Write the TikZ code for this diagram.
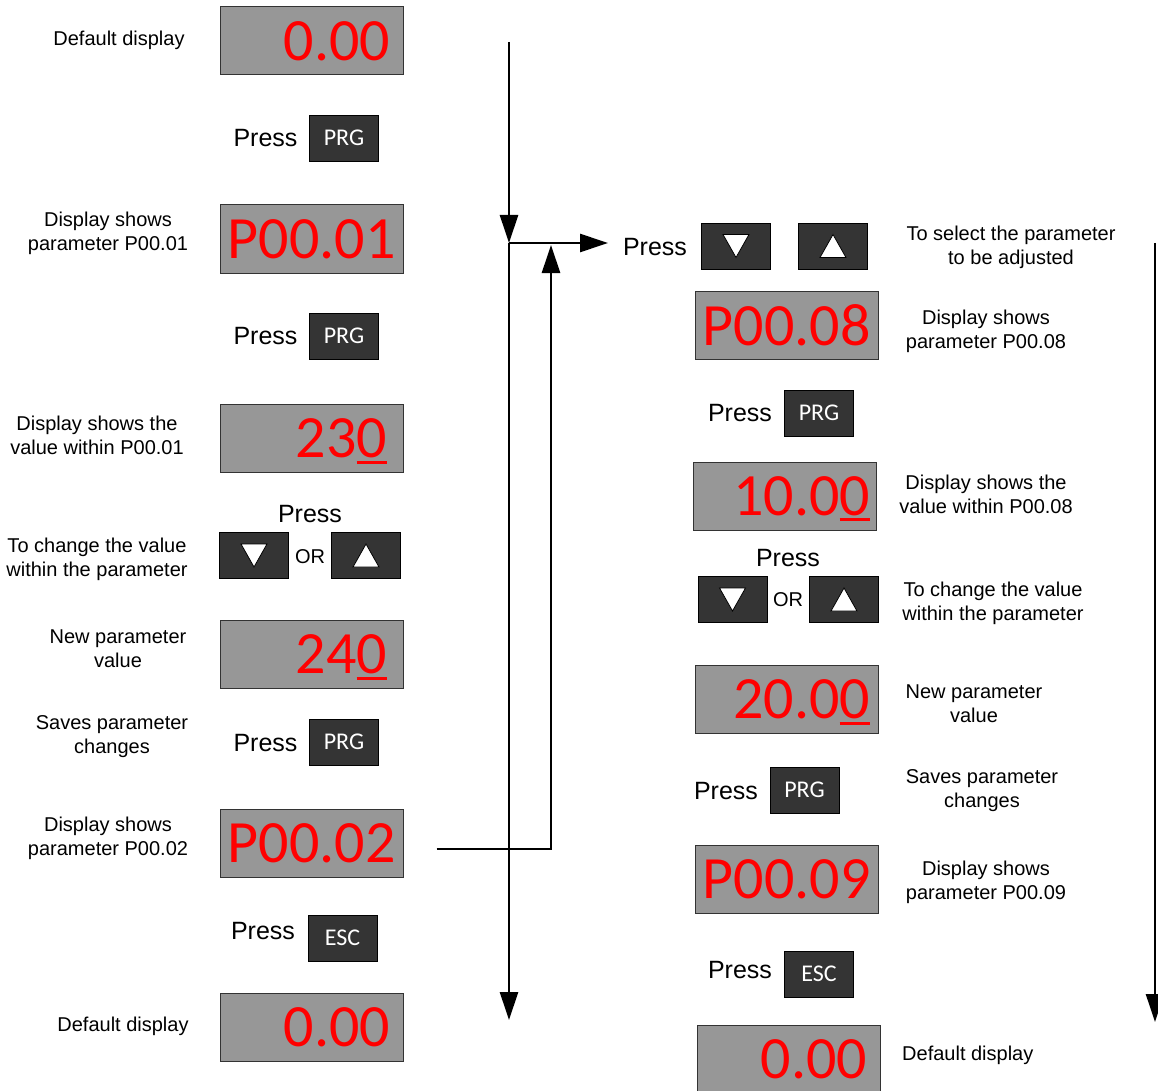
\documentclass[tikz,border=0pt]{standalone}
\usepackage{fontspec}
\setmainfont{Liberation Sans}
\newfontfamily\lcdfont{Carlito}
\usetikzlibrary{arrows.meta,positioning}
\definecolor{lcdGray}{RGB}{151,151,151}
\definecolor{lcdRed}{RGB}{255,0,0}
\definecolor{keyDark}{RGB}{52,52,52}
\newcommand{\uldigit}[1]{\setbox0\hbox{#1}\smash{\rlap{\rule[-6pt]{\wd0}{3pt}}}#1}

\tikzset{
    lcdpad/.style={inner xsep=#1, text width=183pt-2*#1},
    lcd/.style={draw=black!80, line width=1pt, fill=lcdGray, minimum width=183pt, minimum height=68pt,
        lcdpad=13pt, align=right, text=lcdRed, font=\lcdfont\fontsize{60}{60}\selectfont},
    lcdcode/.style={lcd, lcdpad=7pt, align=center},
    keybox/.style={draw=black, line width=0.8pt, fill=keyDark, minimum width=69pt, minimum height=46pt,
        inner sep=0pt, text=white, font=\lcdfont\fontsize{24}{24}\selectfont},
    keydown/.style={keybox, path picture={\draw[fill=white, line width=0.8pt]
        ([xshift=-13pt,yshift=11.5pt]path picture bounding box.center) -- ++(26pt,0) -- ++(-13pt,-23pt) -- cycle;}},
    keyup/.style={keybox, path picture={\draw[fill=white, line width=0.8pt]
        ([xshift=-13pt,yshift=-11.5pt]path picture bounding box.center) -- ++(26pt,0) -- ++(-13pt,23pt) -- cycle;}},
    press/.style={font=\fontsize{25}{25}\selectfont, inner sep=0pt},
    orlabel/.style={font=\fontsize{20}{20}\selectfont, inner sep=0pt},
    note/.style={font=\fontsize{20}{24}\selectfont, align=center, inner sep=0pt},
    flow/.style={line width=2.6pt, -{Triangle[length=28pt,width=18pt]}}
}

\begin{document}
\begin{tikzpicture}[x=1pt,y=-1pt]
    \useasboundingbox (0,0) rectangle (1158,1091);

    % left column
    \node[lcd] (dispL1) at (311.5,41) {0.00};
    \node[note] (noteL1) at (119,40) {Default display};
    \node[press] (pressL1) at (265.5,138) {Press};
    \node[keybox] (prgL1) at (344,138) {PRG};

    \node[lcdcode] (dispL2) at (311.5,239) {P00.01};
    \node[note] (noteL2) at (108,233) {Display shows\\parameter P00.01};
    \node[press] (pressL2) at (265.5,336) {Press};
    \node[keybox] (prgL2) at (344,336) {PRG};

    \node[lcd, lcdpad=16pt] (dispL3) at (311.5,438.5) {23\uldigit{0}};
    \node[note] (noteL3) at (97,435) {Display shows the\\value within P00.01};
    \node[press] (pressL3) at (310,514) {Press};
    \node[keydown] (downL) at (254,555.5) {};
    \node[orlabel] (orL) at (310,557) {OR};
    \node[keyup] (upL) at (366,555.5) {};
    \node[note] (noteL4) at (97,559) {To change the value\\within the parameter};

    \node[lcd, lcdpad=16pt] (dispL4) at (311.5,654.5) {24\uldigit{0}};
    \node[note] (noteL5) at (118,649) {New parameter\\value};
    \node[press] (pressL4) at (265.5,743) {Press};
    \node[keybox] (prgL3) at (344,742) {PRG};
    \node[note] (noteL6) at (112,737) {Saves parameter\\changes};

    \node[lcdcode] (dispL5) at (311.5,843.5) {P00.02};
    \node[note] (noteL7) at (108,838) {Display shows\\parameter P00.02};
    \node[press] (pressL5) at (263,931) {Press};
    \node[keybox] (escL) at (342.5,938) {ESC};

    \node[lcd] (dispL6) at (311.5,1027) {0.00};
    \node[note] (noteL8) at (123,1026) {Default display};

    % right column
    \node[press] (pressR1) at (655,247) {Press};
    \node[keydown] (downR1) at (736,246) {};
    \node[keyup] (upR1) at (833,246) {};
    \node[note] (noteR1) at (1011,247) {To select the parameter\\to be adjusted};

    \node[lcdcode] (dispR1) at (786.5,325) {P00.08};
    \node[note] (noteR2) at (986,331) {Display shows\\parameter P00.08};
    \node[press] (pressR2) at (740,413) {Press};
    \node[keybox] (prgR1) at (819,413) {PRG};

    \node[lcd, lcdpad=6pt] (dispR2) at (784.5,496) {10.0\uldigit{0}};
    \node[note] (noteR3) at (986,494) {Display shows the\\value within P00.08};
    \node[press] (pressR3) at (788,558) {Press};
    \node[keydown] (downR2) at (732.5,599.5) {};
    \node[orlabel] (orR) at (788,600) {OR};
    \node[keyup] (upR2) at (844,599.5) {};
    \node[note] (noteR4) at (993,603) {To change the value\\within the parameter};

    \node[lcd, lcdpad=8pt] (dispR3) at (786.5,699.5) {20.0\uldigit{0}};
    \node[note] (noteR5) at (974,704) {New parameter\\value};
    \node[press] (pressR4) at (726,791) {Press};
    \node[keybox] (prgR2) at (804.5,790) {PRG};
    \node[note] (noteR6) at (982,791) {Saves parameter\\changes};

    \node[lcdcode] (dispR4) at (786.5,879) {P00.09};
    \node[note] (noteR7) at (986,882) {Display shows\\parameter P00.09};
    \node[press] (pressR5) at (740,970) {Press};
    \node[keybox] (escR) at (819,974) {ESC};

    \node[lcd] (dispR5) at (788.5,1059) {0.00};
    \node[note, anchor=west] (noteR8) at (902,1055) {Default display};

    % flow lines
    \coordinate (mainTop) at (509,42);
    \coordinate (mainJoin) at (509,243);
    \coordinate (mainEnd) at (509,1020);
    \coordinate (toRight) at (608,243);
    \coordinate[right=33pt of dispL5] (loopStart);
    \coordinate (loopCorner) at (551,849);
    \coordinate (loopEnd) at (551,245);
    \coordinate (rightTop) at (1155,243);
    \coordinate (rightEnd) at (1155,1022);

    \draw[flow] (mainTop) -- (mainJoin);
    \draw[flow] (mainJoin) -- (mainEnd);
    \draw[flow] (mainJoin) -- (toRight);
    \draw[flow] (loopStart |- loopCorner) -- (loopCorner) -- (loopEnd);
    \draw[flow] (rightTop) -- (rightEnd);
\end{tikzpicture}
\end{document}
